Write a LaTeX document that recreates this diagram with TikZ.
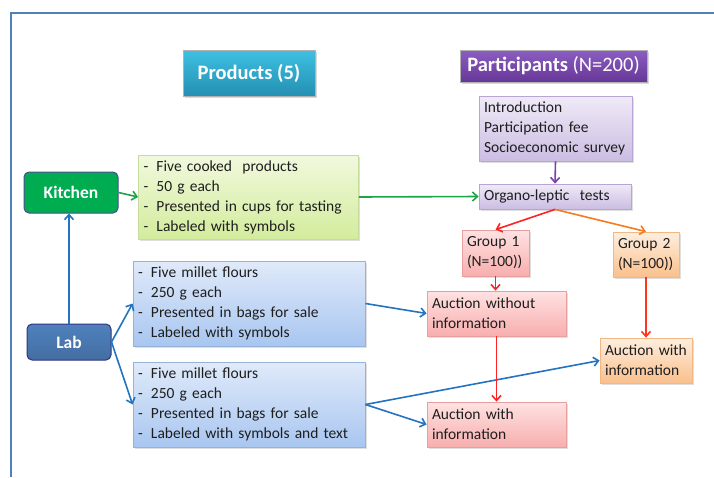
\documentclass[tikz,border=0pt]{standalone}
\usepackage{fontspec}
\setmainfont{Carlito}
\usepackage{tikz}
\usetikzlibrary{arrows.meta,shadows}
\definecolor{frame}{HTML}{4F81BD}
\definecolor{ink}{HTML}{1E1E1E}
\definecolor{grn}{HTML}{1FA34A}
\definecolor{blu}{HTML}{2473C0}
\definecolor{red}{HTML}{FF2222}
\definecolor{org}{HTML}{F47B20}
\definecolor{pur}{HTML}{7A3FB0}
\definecolor{prodtop}{HTML}{3EC0E2}
\definecolor{prodbot}{HTML}{2490B2}
\definecolor{parttop}{HTML}{8C5EC2}
\definecolor{partbot}{HTML}{663796}
\definecolor{kitfill}{HTML}{00AC50}
\definecolor{gtop}{HTML}{F1F9DE}
\definecolor{gbot}{HTML}{D3EC9C}
\definecolor{gline}{HTML}{C6DC9E}
\definecolor{btop}{HTML}{E0EAFA}
\definecolor{bbot}{HTML}{A8C6F0}
\definecolor{bline}{HTML}{95B3D7}
\definecolor{ptop}{HTML}{F0EAF7}
\definecolor{pbot}{HTML}{CBBDE2}
\definecolor{pline}{HTML}{B7A5D6}
\definecolor{rtop}{HTML}{FFE2E2}
\definecolor{rbot}{HTML}{F8AEAE}
\definecolor{rline}{HTML}{E6A0A0}
\definecolor{otop}{HTML}{FEEEDF}
\definecolor{obot}{HTML}{FAC08C}
\definecolor{oline}{HTML}{F2B884}
\newcommand{\itm}[1]{\makebox[13pt][l]{-}#1}
\tikzset{
  frm/.style={draw=frame, line width=2pt},
  box/.style={draw, line width=0.8pt, inner xsep=5pt, inner ysep=0pt, align=left,
    text=ink, font=\fontsize{15.5}{20}\selectfont,
    drop shadow={shadow xshift=1.5pt, shadow yshift=-1.5pt, opacity=0.25}},
  gbox/.style={box, draw=gline, top color=gtop, bottom color=gbot},
  bbox/.style={box, draw=bline, top color=btop, bottom color=bbot},
  pbox/.style={box, draw=pline, top color=ptop, bottom color=pbot},
  rbox/.style={box, draw=rline, top color=rtop, bottom color=rbot},
  obox/.style={box, draw=oline, top color=otop, bottom color=obot},
  hdr/.style={draw=white!70!black, line width=0.6pt, text=white, inner sep=0pt,
    font=\fontsize{20.5}{24}\selectfont,
    drop shadow={shadow xshift=1.5pt, shadow yshift=-1.5pt, opacity=0.3}},
  btn/.style={rounded corners=5pt, line width=1pt, text=white, inner sep=0pt,
    font=\fontsize{17.5}{20}\selectfont\bfseries},
  arr/.style={line width=1.6pt, -{Straight Barb[length=5pt,width=9pt]}},
  garr/.style={arr, draw=grn},
  barr/.style={arr, draw=blu},
  rarr/.style={arr, draw=red},
  oarr/.style={arr, draw=org},
  parr/.style={arr, draw=pur},
}
\begin{document}
\begin{tikzpicture}[x=1pt,y=-1pt]
  \useasboundingbox (0,0) rectangle (714,477);
  \draw[frm] (11,477) -- (11,13) -- (714,13);

  % headers
  \node[hdr, top color=prodtop, bottom color=prodbot,
    minimum width=132pt, minimum height=46pt] (prod) at (249,73) {\textbf{Products (5)}};
  \node[hdr, top color=parttop, bottom color=partbot,
    minimum width=187pt, minimum height=32pt] (part) at (553.5,66) {\textbf{Participants} (N=200)};

  % sources
  \node[btn, draw=blue!40!black!70, fill=kitfill, minimum width=94pt, minimum height=41pt] (kit) at (71,192.5) {Kitchen};
  \node[btn, draw=blue!40!black!80, top color=frame, bottom color=frame!85!black, minimum width=84pt, minimum height=36pt] (lab) at (69,342) {Lab};

  % products
  \node[gbox, minimum width=220pt, minimum height=84pt, text width=210pt] (cook) at (248.5,197)
    {\itm{Five cooked~ products}\\ \itm{50 g each}\\ \itm{Presented in cups for tasting}\\ \itm{Labeled with symbols}};
  \node[bbox, minimum width=232pt, minimum height=85pt, text width=222pt] (flA) at (249,303.5)
    {\itm{Five millet flours}\\ \itm{250 g each}\\ \itm{Presented in bags for sale}\\ \itm{Labeled with symbols}};
  \node[bbox, minimum width=232pt, minimum height=85pt, text width=222pt] (flB) at (249,404.5)
    {\itm{Five millet flours}\\ \itm{250 g each}\\ \itm{Presented in bags for sale}\\ \itm{Labeled with symbols and text}};

  % participants
  \node[pbox, minimum width=153pt, minimum height=65pt, text width=143pt] (intro) at (555.5,128.5)
    {Introduction\\ Participation fee\\ Socioeconomic survey};
  \node[pbox, minimum width=152pt, minimum height=25pt, text width=142pt] (test) at (555,196.5)
    {Organo-leptic~ tests};
  \node[rbox, minimum width=67pt, minimum height=46pt, text width=57pt] (grpA) at (495.5,253)
    {Group 1\\ (N=100))};
  \node[obox, minimum width=66pt, minimum height=45pt, text width=56pt] (grpB) at (646,254.5)
    {Group 2\\ (N=100))};
  \node[rbox, minimum width=139pt, minimum height=45pt, text width=129pt] (aucA) at (496.5,313.5)
    {Auction without\\ information};
  \node[rbox, minimum width=139pt, minimum height=45pt, text width=129pt] (aucB) at (496.5,424.5)
    {Auction with\\ information};
  \node[obox, minimum width=92pt, minimum height=45pt, text width=82pt] (aucC) at (646,360.5)
    {Auction with\\ information};

  % connectors
  \draw[barr] (lab.north) -- (lab.north |- kit.south);
  \draw[garr] (kit.east) -- (cook.west);
  \draw[garr] (cook.east) -- (test.west);
  \draw[barr] (lab.east) -- (flA.west);
  \draw[barr] (lab.east) -- (flB.west);
  \draw[barr] (flA.east) -- (aucA.west);
  \draw[barr] (flB.east) -- (aucB.west);
  \draw[barr] (flB.east) -- (aucC.west);
  \draw[parr] (intro.south) -- (test.north);
  \draw[rarr] (test.south) -- (grpA.north);
  \draw[oarr] (test.south) -- (grpB.north);
  \draw[rarr] (grpA.south) -- (grpA.south |- aucA.north);
  \draw[rarr] (aucA.south) -- (aucB.north);
  \draw[arr, draw=red!80!orange] (grpB.south) -- (grpB.south |- aucC.north);
\end{tikzpicture}
\end{document}
